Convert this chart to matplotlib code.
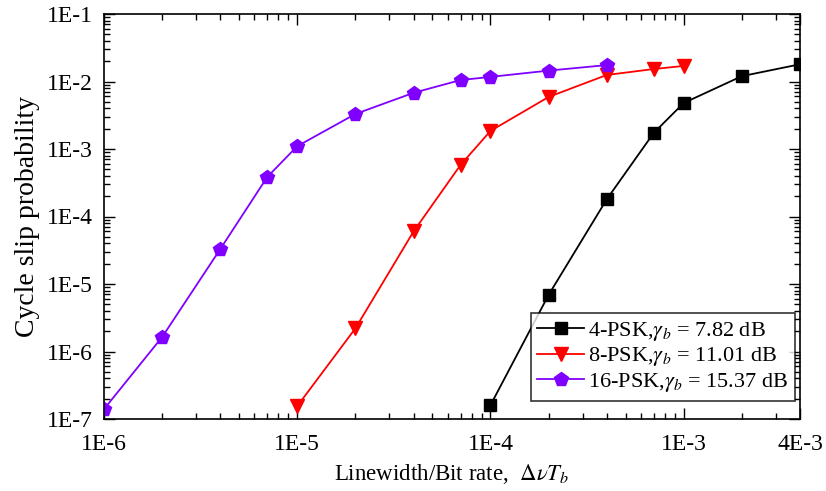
import matplotlib
matplotlib.use("Agg")
import matplotlib.pyplot as plt
from matplotlib.ticker import LogLocator, FixedLocator, FixedFormatter, NullFormatter

plt.rcParams['font.family'] = ['Liberation Serif', 'DejaVu Serif']
plt.rcParams['mathtext.fontset'] = 'stix'

x_4psk = [1e-4, 2e-4, 4e-4, 7e-4, 1e-3, 2e-3, 4e-3]
y_4psk = [1.6e-7, 6.9e-6, 1.8e-4, 1.73e-3, 4.8e-3, 1.2e-2, 1.8e-2]

x_8psk = [1e-5, 2e-5, 4e-5, 7e-5, 1e-4, 2e-4, 4e-4, 7e-4, 1e-3]
y_8psk = [1.55e-7, 2.2e-6, 6.0e-5, 5.8e-4, 1.85e-3, 5.9e-3, 1.25e-2, 1.53e-2, 1.7e-2]

x_16psk = [1e-6, 2e-6, 4e-6, 7e-6, 1e-5, 2e-5, 4e-5, 7e-5, 1e-4, 2e-4, 4e-4]
y_16psk = [1.4e-7, 1.64e-6, 3.3e-5, 3.85e-4, 1.1e-3, 3.3e-3, 6.8e-3, 1.05e-2, 1.17e-2, 1.45e-2, 1.75e-2]

labels = [r'4-PSK,$\gamma_b$ = 7.82 dB', r'8-PSK,$\gamma_b$ = 11.01 dB', r'16-PSK,$\gamma_b$ = 15.37 dB']

xticks = [1e-6, 1e-5, 1e-4, 1e-3, 4e-3]
xticklabels = ['1E-6', '1E-5', '1E-4', '1E-3', '4E-3']
yticks = [1e-7, 1e-6, 1e-5, 1e-4, 1e-3, 1e-2, 1e-1]
yticklabels = ['1E-7', '1E-6', '1E-5', '1E-4', '1E-3', '1E-2', '1E-1']

fig = plt.figure(figsize=(8.26, 4.91), dpi=100)
ax = fig.add_axes([104/826, 1-419/491, (800-104)/826, (419-14)/491])

ax.plot(x_4psk, y_4psk, color='black', marker='s', markersize=8.5, lw=1.3, label=labels[0])
ax.plot(x_8psk, y_8psk, color='#FF0000', marker='v', markersize=10, lw=1.3, label=labels[1])
ax.plot(x_16psk, y_16psk, color='#8000FF', marker='p', markersize=10, lw=1.3, label=labels[2])

ax.set_xscale('log')
ax.set_yscale('log')
ax.set_xlim(1e-6, 4e-3)
ax.set_ylim(1e-7, 1e-1)

ax.xaxis.set_major_locator(FixedLocator(xticks))
ax.xaxis.set_major_formatter(FixedFormatter(xticklabels))
ax.xaxis.set_minor_locator(LogLocator(base=10, subs=range(2, 10), numticks=20))
ax.xaxis.set_minor_formatter(NullFormatter())
ax.yaxis.set_major_locator(FixedLocator(yticks))
ax.yaxis.set_major_formatter(FixedFormatter(yticklabels))
ax.yaxis.set_minor_locator(LogLocator(base=10, subs=range(2, 10), numticks=20))
ax.yaxis.set_minor_formatter(NullFormatter())

ax.tick_params(which='both', direction='in', top=True, right=True, labelsize=17, width=1.0)
ax.tick_params(which='major', length=8)
ax.tick_params(which='minor', length=4.5)
ax.tick_params(axis='x', which='major', pad=11)
ax.tick_params(axis='y', which='major', pad=8)
for s in ax.spines.values():
    s.set_linewidth(1.2)

ax.set_xlabel(r'Linewidth/Bit rate,  $\Delta\nu T_b$', fontsize=16.5, labelpad=5)
ax.set_ylabel('Cycle slip probability', fontsize=20, labelpad=5)

leg = ax.legend(loc='lower right', bbox_to_anchor=(0.993, 0.045), fontsize=16, frameon=True, fancybox=False,
                edgecolor='black', handlelength=2.1, handletextpad=0.2, borderpad=0.3, labelspacing=0.12,
                borderaxespad=0.0)
leg.get_frame().set_linewidth(1.2)

fig.savefig('out.png', dpi=100)
